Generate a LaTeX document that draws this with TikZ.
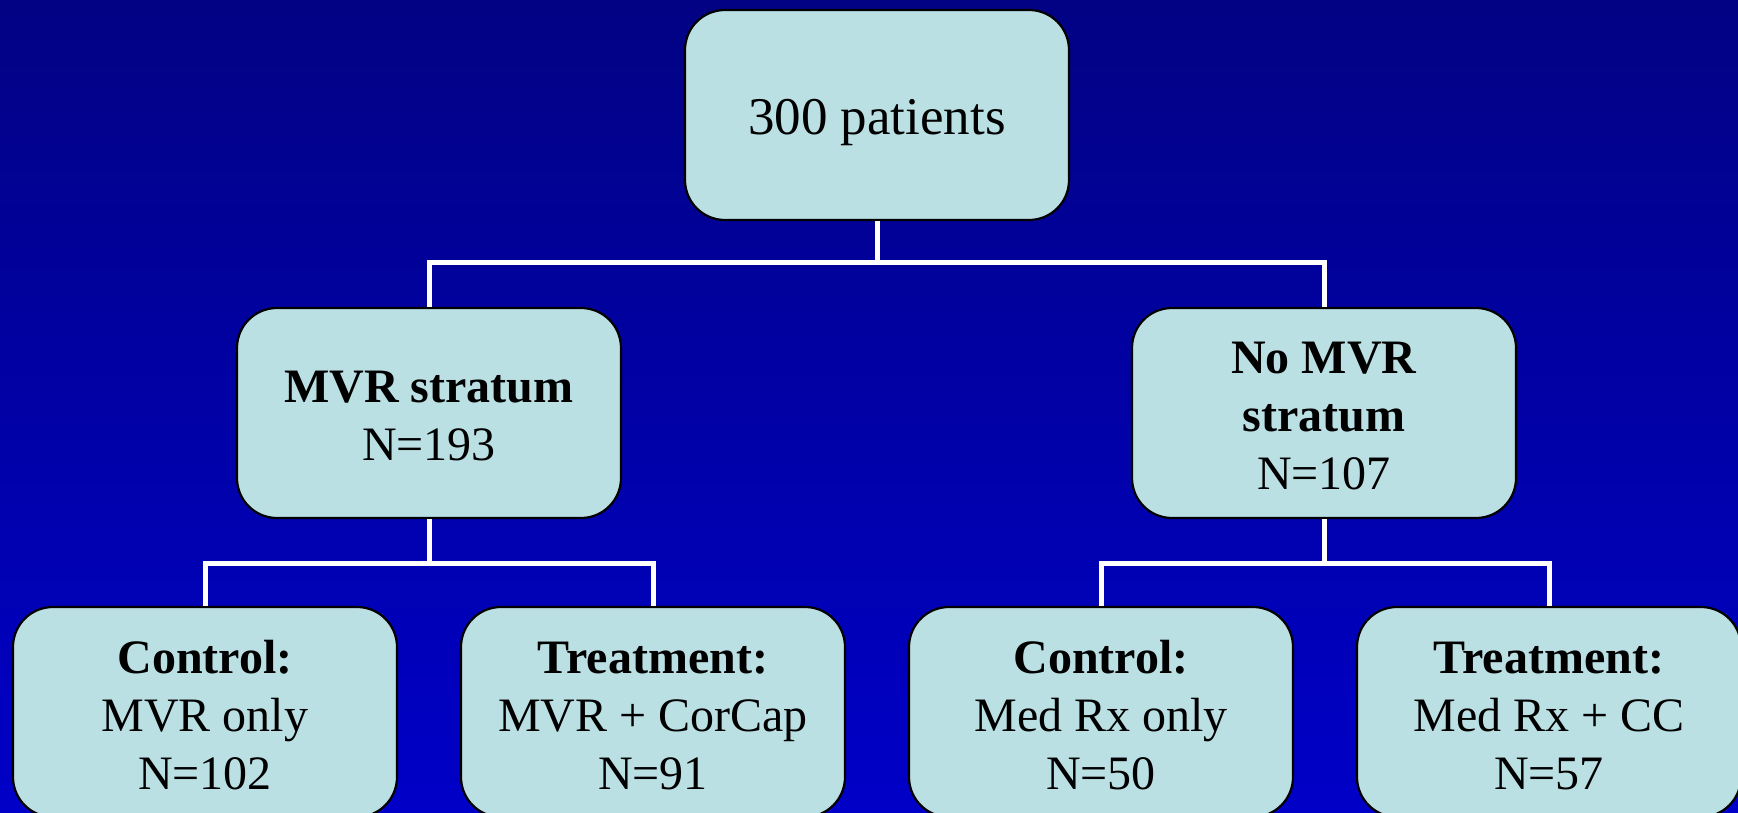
\documentclass[tikz,border=0pt]{standalone}
\usepackage{fontspec}
\setmainfont{Liberation Serif}
\definecolor{bgtop}{RGB}{2,2,132}
\definecolor{bgbot}{RGB}{0,0,200}
\definecolor{boxfill}{RGB}{186,224,228}
\begin{document}
\begin{tikzpicture}[x=1pt,y=-1pt,
  box/.style={draw=black, line width=2.2pt, fill=boxfill, rounded corners=40pt,
    minimum width=384pt, minimum height=210pt, align=center, inner sep=0pt,
    font=\fontsize{48}{58}\selectfont},
  link/.style={draw=white, line width=5pt}]
\useasboundingbox (0,0) rectangle (1738,813);
\shade[top color=bgtop, bottom color=bgbot] (0,0) rectangle (1738,813);
\node[box, font=\fontsize{53}{60}\selectfont] (top) at (877,115) {\rule{0pt}{51pt}300 patients};
\node[box] (mvr) at (429,413) {\rule{0pt}{38pt}\textbf{MVR stratum}\\N=193};
\node[box] (nomvr) at (1324,413) {\rule{0pt}{38pt}\textbf{No MVR}\\\textbf{stratum}\\N=107};
\node[box] (c1) at (205,712) {\rule{0pt}{39pt}\textbf{Control:}\\MVR only\\N=102};
\node[box] (t1) at (653,712) {\rule{0pt}{39pt}\textbf{Treatment:}\\MVR + CorCap\\N=91};
\node[box] (c2) at (1101,712) {\rule{0pt}{39pt}\textbf{Control:}\\Med Rx only\\N=50};
\node[box] (t2) at (1549,712) {\rule{0pt}{39pt}\textbf{Treatment:}\\Med Rx + CC\\N=57};
\coordinate (j1) at (877,263);
\coordinate (j2) at (429,563);
\coordinate (j3) at (1324,563);
\path[link] (top.south) -- (j1);
\path[link] (mvr.north) |- (j1) -| (nomvr.north);
\path[link] (mvr.south) -- (j2);
\path[link] (c1.north) |- (j2) -| (t1.north);
\path[link] (nomvr.south) -- (j3);
\path[link] (c2.north) |- (j3) -| (t2.north);
\end{tikzpicture}
\end{document}
